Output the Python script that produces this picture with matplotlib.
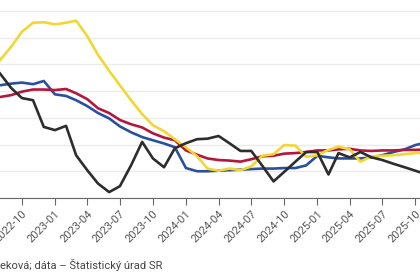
import pandas as pd
import matplotlib
matplotlib.use("Agg")
import matplotlib.pyplot as plt
import matplotlib.dates as mdates

plt.rcParams['font.family'] = ['Roboto', 'DejaVu Sans']

# monthly values, 2022-07 .. 2025-11 (y/y change, %)
months = pd.date_range('2022-07-01', '2025-11-01', freq='MS')

yellow = [18.4, 20.8, 23.3, 26.1, 27.8, 27.9, 27.5, 27.8, 28.2, 25.3, 21.8, 18.8,
          16.1, 13.3, 10.7, 8.6, 7.5, 6.0, 4.5, 2.8, 0.5, 0.1, 0.5, 0.2,
          0.9, 2.9, 3.2, 4.9, 4.8, 2.7, 3.0, 4.0, 4.6, 4.1, 1.8, 2.8,
          2.9, 3.0, 3.2, 3.4, 3.5]
blue = [16.0, 16.1, 16.4, 16.6, 16.3, 16.9, 14.4, 14.1, 13.3, 12.2, 10.9, 9.9,
        8.4, 7.3, 6.4, 5.8, 5.2, 4.5, 0.6, 0.0, 0.0, 0.1, 0.2, 0.3,
        0.4, 0.5, 0.5, 0.6, 0.6, 1.1, 2.9, 2.6, 2.4, 2.4, 2.4, 2.6,
        3.0, 3.6, 4.1, 4.9, 5.4]
red = [13.5, 13.9, 14.25, 14.9, 15.3, 15.3, 15.2, 15.4, 14.6, 13.5, 11.8, 10.9,
       9.6, 8.8, 8.2, 7.1, 6.3, 5.8, 3.9, 3.1, 2.4, 2.1, 2.0, 1.8,
       2.25, 2.8, 2.9, 3.3, 3.4, 3.6, 3.9, 3.9, 4.1, 4.2, 3.9, 3.8,
       3.9, 3.9, 4.0, 4.0, 4.1]
black = [20.8, 18.3, 15.6, 13.7, 13.3, 8.3, 7.7, 8.5, 3.0, 0.2, -2.3, -3.9,
         -2.8, 1.1, 5.5, 2.4, 0.75, 4.3, 5.25, 6.0, 6.1, 6.6, 5.25, 3.8,
         3.8, 1.0, -1.9, -0.1, 1.8, 3.6, 3.6, -0.6, 3.4, 2.6, 3.6, 2.6,
         2.1, 1.4, 0.75, 0.1, -0.6]

source = "eková; dáta \u2013 Štatistický úrad SR"

fig = plt.figure(figsize=(4.2, 2.8), dpi=100)
ax = fig.add_axes([0.0, 0.293, 1.0, 0.707])

ax.plot(months, blue, color='#2b509b', lw=1.9)
ax.plot(months, red, color='#b3173b', lw=1.9)
ax.plot(months, yellow, color='#f2d634', lw=1.9)
ax.plot(months, black, color='#2d2d2d', lw=1.9)

ax.set_ylim(-5, 32.06)
ax.set_yticks(range(-5, 35, 5))
ax.grid(axis='y', color='#ebebeb', lw=1)
ax.set_axisbelow(True)
ax.set_xlim(pd.Timestamp('2022-08-01'), pd.Timestamp('2025-10-14'))

ax.xaxis.set_major_locator(mdates.MonthLocator(bymonth=[1, 4, 7, 10]))
ax.xaxis.set_major_formatter(mdates.DateFormatter('%Y-%m'))
plt.setp(ax.get_xticklabels(), rotation=45, ha='right', rotation_mode='anchor',
         fontsize=8, color='#555555')
ax.tick_params(axis='x', length=5, color='#666666', pad=3)
ax.tick_params(axis='y', left=False, labelleft=False)

for s in ['top', 'right', 'left']:
    ax.spines[s].set_visible(False)
ax.spines['bottom'].set_color('#666666')
ax.spines['bottom'].set_linewidth(0.8)

fig.text(0.0, 0.054, source, fontsize=8, color='#444444', va='center', ha='left')

fig.savefig('out.png', dpi=100)
